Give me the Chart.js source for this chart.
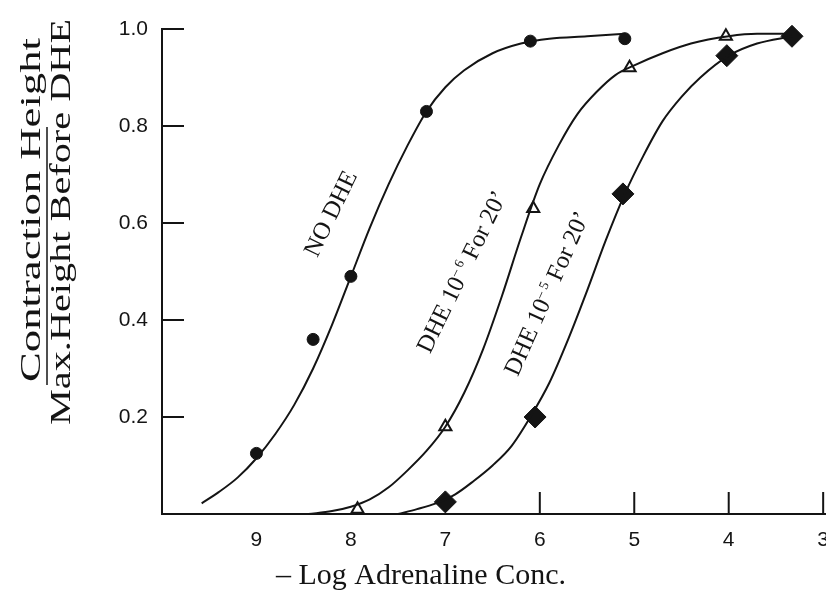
<!DOCTYPE html>
<html><head><meta charset="utf-8">
<script src="https://cdn.jsdelivr.net/npm/chart.js@4/dist/chart.umd.min.js"></script>
<style>html,body{margin:0;padding:0;background:#fff;}#wrap{width:826px;height:594px;}</style>
</head><body><div id="wrap"><canvas id="c" width="826" height="594"></canvas></div>
<script>
// ---- data ----
const xTickValues = [9, 8, 7, 6, 5, 4, 3];
const yTickValues = [0.2, 0.4, 0.6, 0.8, 1.0];

// measured points
const noDheX = [9.0, 8.4, 8.0, 7.2, 6.1, 5.1];
const noDheY = [0.125, 0.36, 0.49, 0.83, 0.975, 0.98];
const dhe6X = [7.93, 7.0, 6.07, 5.05, 4.03];
const dhe6Y = [0.01, 0.18, 0.63, 0.92, 0.985];
const dhe5X = [7.0, 6.05, 5.12, 4.02, 3.33];
const dhe5Y = [0.025, 0.20, 0.66, 0.945, 0.985];

// hand-drawn fitted curves
const noDheCurveX = [9.58, 9.4, 9.2, 9.0, 8.8, 8.6, 8.4, 8.2, 8.0, 7.8, 7.6, 7.4, 7.2, 7.0, 6.8, 6.5, 6.2, 5.9, 5.5, 5.1];
const noDheCurveY = [0.022, 0.045, 0.075, 0.115, 0.165, 0.225, 0.30, 0.39, 0.49, 0.59, 0.68, 0.76, 0.83, 0.88, 0.915, 0.95, 0.97, 0.98, 0.985, 0.99];
const dhe6CurveX = [8.45, 8.2, 8.0, 7.8, 7.6, 7.4, 7.2, 7.0, 6.8, 6.6, 6.4, 6.2, 6.0, 5.8, 5.6, 5.4, 5.2, 5.0, 4.7, 4.4, 4.0, 3.7, 3.33];
const dhe6CurveY = [0.0, 0.006, 0.015, 0.03, 0.055, 0.09, 0.13, 0.18, 0.25, 0.34, 0.45, 0.57, 0.68, 0.76, 0.825, 0.87, 0.905, 0.925, 0.95, 0.97, 0.985, 0.99, 0.99];
const dhe5CurveX = [7.5, 7.3, 7.1, 6.9, 6.7, 6.5, 6.3, 6.1, 5.9, 5.7, 5.5, 5.3, 5.1, 4.9, 4.7, 4.5, 4.3, 4.0, 3.7, 3.33];
const dhe5CurveY = [0.0, 0.01, 0.022, 0.04, 0.068, 0.10, 0.14, 0.20, 0.27, 0.36, 0.46, 0.565, 0.66, 0.74, 0.81, 0.86, 0.9, 0.945, 0.97, 0.985];

const xTitle = '\u2013 Log Adrenaline Conc.';
const yTitleTop = 'Contraction Height';
const yTitleBottom = 'Max.Height Before DHE';
const curveLabels = [
  [{t: 'NO DHE'}],
  [{t: 'DHE 10'}, {t: '\u2013 6', sup: true}, {t: ' For 20\u2019'}],
  [{t: 'DHE 10'}, {t: '\u2013 5', sup: true}, {t: ' For 20\u2019'}]
];

const zip = (xs, ys) => xs.map((v, i) => ({x: v, y: ys[i]}));
const INK = '#141414';

const annot = {
  id: 'annot',
  afterDraw(chart, args, o) {
    const {ctx, chartArea: ca, scales: {x, y}} = chart;
    ctx.save();
    ctx.strokeStyle = INK; ctx.fillStyle = INK; ctx.lineWidth = 2;
    // inward tick marks
    yTickValues.forEach(v => {
      const py = y.getPixelForValue(v);
      ctx.beginPath(); ctx.moveTo(ca.left, py); ctx.lineTo(ca.left + o.tickLen, py); ctx.stroke();
    });
    o.xMarked.forEach(v => {
      const px = x.getPixelForValue(v);
      ctx.beginPath(); ctx.moveTo(px, ca.bottom); ctx.lineTo(px, ca.bottom - o.tickLen); ctx.stroke();
    });
    // curve labels
    o.labelPos.forEach((p, i) => {
      const segs = curveLabels[i];
      const px = x.getPixelForValue(p.x), py = y.getPixelForValue(p.y);
      ctx.save();
      ctx.translate(px, py); ctx.rotate(p.angle * Math.PI / 180);
      ctx.textBaseline = 'alphabetic'; ctx.textAlign = 'left';
      let total = 0;
      const ws = segs.map(s => {
        ctx.font = (s.sup ? o.labelSize * 0.55 : o.labelSize) + 'px "Liberation Serif"';
        const w = ctx.measureText(s.t).width; total += w; return w;
      });
      let cx = -total / 2;
      segs.forEach((s, k) => {
        ctx.font = (s.sup ? o.labelSize * 0.55 : o.labelSize) + 'px "Liberation Serif"';
        ctx.fillText(s.t, cx, s.sup ? -o.labelSize * 0.05 : o.labelSize * 0.33);
        cx += ws[k];
      });
      ctx.restore();
    });
    // y axis title as a fraction
    const t = o.yTitle;
    ctx.font = t.size + 'px "Liberation Serif"';
    ctx.textAlign = 'center'; ctx.textBaseline = 'middle';
    [[yTitleTop, t.topX, t.topY, t.topLen], [yTitleBottom, t.botX, t.botY, t.botLen]].forEach(([s, tx, ty, len]) => {
      ctx.save();
      ctx.translate(tx, ty); ctx.rotate(-Math.PI / 2);
      const w = ctx.measureText(s).width;
      ctx.scale(len / w, 1);
      ctx.fillText(s, 0, 0);
      ctx.restore();
    });
    ctx.lineWidth = 1.5;
    ctx.beginPath(); ctx.moveTo(t.lineX, t.lineY0); ctx.lineTo(t.lineX, t.lineY1); ctx.stroke();
    ctx.restore();
  }
};

const lineDs = (xs, ys) => ({data: zip(xs, ys), showLine: true, pointRadius: 0, borderColor: INK, borderWidth: 2,
  tension: 0.4, cubicInterpolationMode: 'monotone', fill: false, clip: false});

const tickFont = {family: '"Liberation Sans", Arial, sans-serif', size: 21};

new Chart(document.getElementById('c'), {
  type: 'scatter',
  data: {
    datasets: [
      lineDs(noDheCurveX, noDheCurveY),
      lineDs(dhe6CurveX, dhe6CurveY),
      lineDs(dhe5CurveX, dhe5CurveY),
      {label: 'NO DHE', data: zip(noDheX, noDheY), pointStyle: 'circle', pointRadius: 6, backgroundColor: INK, borderColor: INK, borderWidth: 1, clip: false},
      {label: 'DHE 10-6', data: zip(dhe6X, dhe6Y), pointStyle: 'triangle', pointRadius: 7, backgroundColor: '#fff', borderColor: INK, borderWidth: 2, clip: false},
      {label: 'DHE 10-5', data: zip(dhe5X, dhe5Y), pointStyle: 'rectRot', pointRadius: 11, backgroundColor: INK, borderColor: INK, borderWidth: 1, clip: false}
    ]
  },
  options: {
    responsive: false, animation: false, devicePixelRatio: 1,
    layout: {autoPadding: false, padding: {left: 16, top: 29, right: 0, bottom: 0}},
    plugins: {
      legend: {display: false}, tooltip: {enabled: false},
      title: {display: true, position: 'bottom', text: xTitle, color: INK,
        font: {family: '"Liberation Serif", serif', size: 30, weight: 'normal'}, padding: {top: 0, bottom: 0}},
      annot: {
        tickLen: 22, xMarked: [6, 5, 4, 3], labelSize: 24.5,
        labelPos: [{x: 8.22, y: 0.62, angle: -64}, {x: 6.83, y: 0.50, angle: -64}, {x: 5.93, y: 0.455, angle: -66}],
        yTitle: {size: 30, topX: 32, topY: 210, topLen: 344, botX: 62, botY: 222, botLen: 406, lineX: 47, lineY0: 127, lineY1: 385}
      }
    },
    scales: {
      x: {type: 'linear', reverse: true, min: 2.97, max: 10,
        afterBuildTicks: s => { s.ticks = xTickValues.map(v => ({value: v})); },
        afterFit: s => { s.height = 44; s.paddingLeft = 0; s.paddingRight = 0; },
        grid: {display: true, drawOnChartArea: false, drawTicks: false},
        border: {display: true, color: INK, width: 2},
        ticks: {font: tickFont, color: INK, padding: 14, callback: v => String(v)}},
      y: {type: 'linear', min: 0, max: 1,
        afterBuildTicks: s => { s.ticks = yTickValues.map(v => ({value: v})); },
        afterFit: s => { s.width = 146; },
        grid: {display: true, drawOnChartArea: false, drawTicks: false},
        border: {display: true, color: INK, width: 2},
        ticks: {font: tickFont, color: INK, padding: 14, callback: v => Number(v).toFixed(1)}}
    }
  },
  plugins: [annot]
});
</script>
</body></html>
